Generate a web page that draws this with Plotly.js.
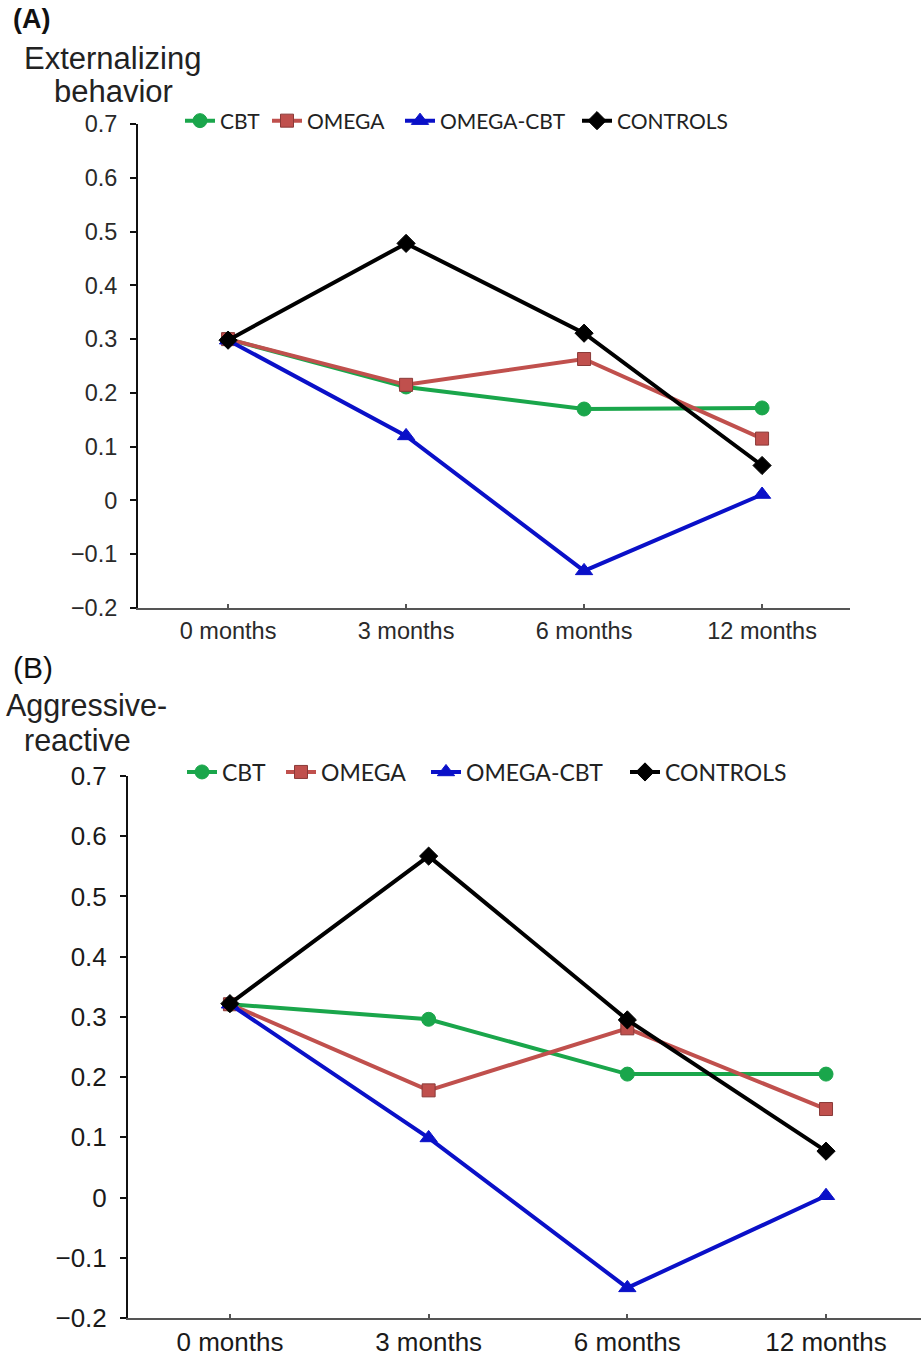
<!DOCTYPE html>
<html>
<head>
<meta charset="utf-8">
<script src="https://cdn.plot.ly/plotly-3.0.1.min.js"></script>
<style>html,body{margin:0;padding:0;background:#fff;}#chart{width:921px;height:1359px;}</style>
</head>
<body>
<div id="chart"></div>
<script>
const timepoints = ["0 months", "3 months", "6 months", "12 months"];
const seriesNames = ["CBT", "OMEGA", "OMEGA-CBT", "CONTROLS"];

// Panel A: Externalizing behavior
const extCBT      = [0.300, 0.211, 0.170, 0.172];
const extOMEGA    = [0.300, 0.215, 0.263, 0.115];
const extOMEGACBT = [0.298, 0.120, -0.131, 0.011];
const extCONTROLS = [0.298, 0.478, 0.311, 0.065];

// Panel B: Aggressive-reactive
const aggCBT      = [0.321, 0.296, 0.205, 0.205];
const aggOMEGA    = [0.321, 0.178, 0.281, 0.147];
const aggOMEGACBT = [0.321, 0.099, -0.150, 0.003];
const aggCONTROLS = [0.322, 0.567, 0.295, 0.077];

const yTickVals = [-0.2, -0.1, 0, 0.1, 0.2, 0.3, 0.4, 0.5, 0.6, 0.7];
const yTickText = ["\u22120.2", "\u22120.1", "0", "0.1", "0.2", "0.3", "0.4", "0.5", "0.6", "0.7"];

const styles = [
  {color: "#1aa64b", symbol: "circle", size: 14},
  {color: "#c0504d", symbol: "square", size: 13},
  {color: "#0a10c8", symbol: "triangle-up", size: 15},
  {color: "#000000", symbol: "diamond", size: 14}
];

function mk(y, i, xa, ya, leg) {
  const s = styles[i];
  return {
    x: timepoints, y: y, name: seriesNames[i], type: "scatter", mode: "lines+markers",
    xaxis: xa, yaxis: ya, legend: leg,
    line: {color: s.color, width: 4},
    marker: {symbol: s.symbol, size: s.size, color: s.color,
             line: {color: i === 1 ? "#8a3a38" : s.color, width: 1}}
  };
}

const data = [
  mk(extCBT, 0, "x", "y", "legend"),
  mk(extOMEGA, 1, "x", "y", "legend2"),
  mk(extOMEGACBT, 2, "x", "y", "legend3"),
  mk(extCONTROLS, 3, "x", "y", "legend4"),
  mk(aggCBT, 0, "x2", "y2", "legend5"),
  mk(aggOMEGA, 1, "x2", "y2", "legend6"),
  mk(aggOMEGACBT, 2, "x2", "y2", "legend7"),
  mk(aggCONTROLS, 3, "x2", "y2", "legend8")
];

const W = 921, H = 1359;
const tickFontA = {family: "Liberation Sans, Arial, sans-serif", size: 23.5, color: "#2a2a2a"};
const tickFontB = {family: "Liberation Sans, Arial, sans-serif", size: 26, color: "#1a1a1a"};

function xax(domain, range, font, anchor, standoff) {
  return {domain: domain, anchor: anchor, type: "category", range: range,
    showline: true, linecolor: "#555", linewidth: 2, ticks: "inside", ticklen: 4,
    tickcolor: "#555", tickwidth: 2, showgrid: false, zeroline: false,
    tickfont: font, ticklabelstandoff: standoff, fixedrange: true};
}
function yax(domain, font, anchor) {
  return {domain: domain, anchor: anchor, range: [-0.2, 0.7],
    tickvals: yTickVals, ticktext: yTickText,
    showline: true, linecolor: "#111", linewidth: 2, ticks: "outside", ticklen: 6,
    tickcolor: "#111", tickwidth: 2, showgrid: false, zeroline: false,
    tickfont: font, ticklabelstandoff: 8, fixedrange: true};
}

function leg(xpx, ypx, size) {
  return {orientation: "h", x: xpx / W, y: 1 - ypx / H, xanchor: "left", yanchor: "middle",
    font: {family: "Lato, sans-serif", size: size, color: "#222"}, itemwidth: 30,
    bgcolor: "rgba(0,0,0,0)", borderwidth: 0};
}

const txtFont = (size, color) => ({family: "Liberation Sans, Arial, sans-serif", size: size, color: color});

const layout = {
  width: W, height: H,
  margin: {l: 0, r: 0, t: 0, b: 0},
  paper_bgcolor: "#fff", plot_bgcolor: "#fff",
  showlegend: true,
  xaxis: xax([138 / W, 850 / W], [-0.506, 3.494], tickFontA, "y", 1),
  yaxis: yax([1 - 608 / H, 1 - 124 / H], tickFontA, "x"),
  xaxis2: xax([128 / W, 1], [-0.513, 3.478], tickFontB, "y2", 0),
  yaxis2: yax([1 - 1318 / H, 1 - 776 / H], tickFontB, "x2"),
  legend:  leg(180, 121, 21),
  legend2: leg(267, 121, 21),
  legend3: leg(400, 121, 21),
  legend4: leg(577, 121, 21),
  legend5: leg(182, 772, 23),
  legend6: leg(281, 772, 23),
  legend7: leg(426, 772, 23),
  legend8: leg(625, 772, 23),
  annotations: [
    {text: "<b>(A)</b>", xref: "paper", yref: "paper", x: 11 / W, y: 1 - 19 / H,
     xanchor: "left", yanchor: "middle", showarrow: false, font: txtFont(27, "#111")},
    {text: "Externalizing", xref: "paper", yref: "paper", x: 112 / W, y: 1 - 58 / H,
     xanchor: "center", yanchor: "middle", showarrow: false, font: txtFont(31, "#222")},
    {text: "behavior", xref: "paper", yref: "paper", x: 113 / W, y: 1 - 92 / H,
     xanchor: "center", yanchor: "middle", showarrow: false, font: txtFont(31, "#222")},
    {text: "(B)", xref: "paper", yref: "paper", x: 11 / W, y: 1 - 668 / H,
     xanchor: "left", yanchor: "middle", showarrow: false, font: txtFont(30, "#111")},
    {text: "Aggressive-", xref: "paper", yref: "paper", x: 86 / W, y: 1 - 705 / H,
     xanchor: "center", yanchor: "middle", showarrow: false, font: txtFont(30.5, "#222")},
    {text: "reactive", xref: "paper", yref: "paper", x: 77 / W, y: 1 - 740 / H,
     xanchor: "center", yanchor: "middle", showarrow: false, font: txtFont(30.5, "#222")}
  ]
};

Plotly.newPlot("chart", data, layout, {displayModeBar: false, staticPlot: true});
</script>
</body>
</html>
